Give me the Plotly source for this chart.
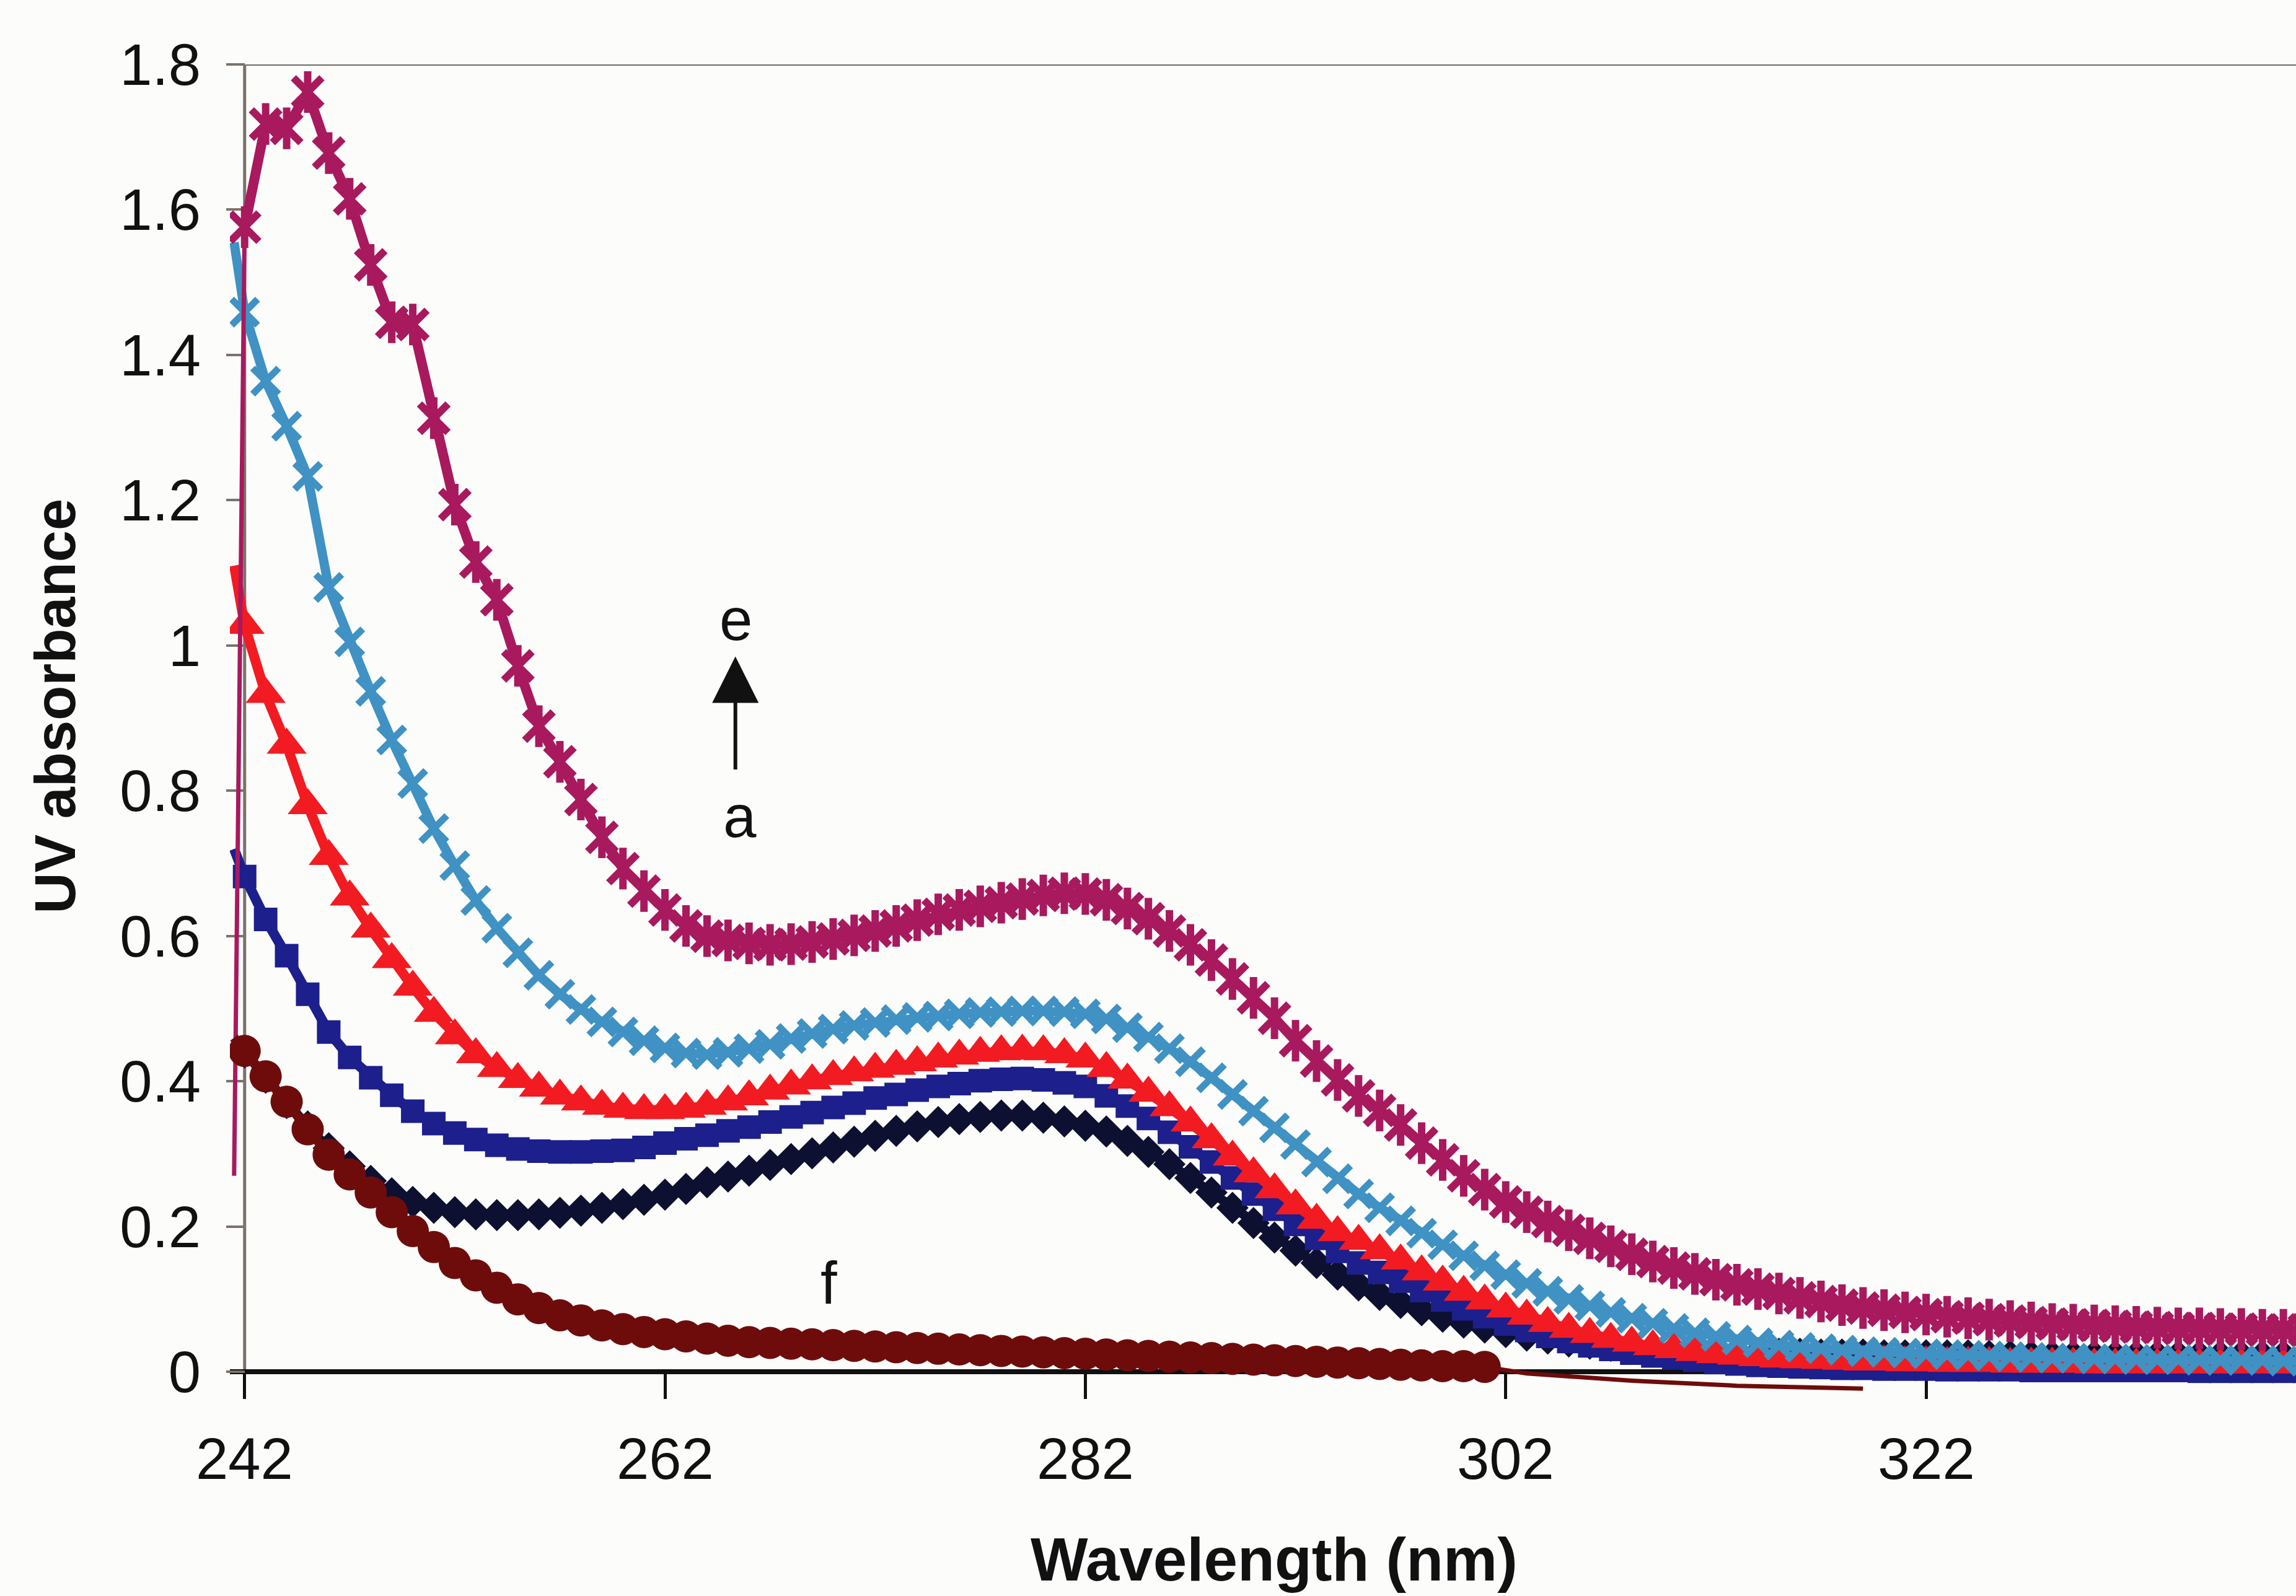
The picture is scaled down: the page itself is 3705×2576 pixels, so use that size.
import plotly.graph_objects as go

# Wavelength grid (nm); the first sample sits half a step before the axis origin
wavelength = [241.5] + list(range(242, 341))
wavelength_f = [241.5] + list(range(242, 302))

# UV absorbance of each spectrum
absorb_a = [0.46,
            0.440, 0.405, 0.370, 0.338, 0.308, 0.283, 0.263, 0.246, 0.234, 0.226,
            0.220, 0.217, 0.216, 0.216, 0.217, 0.219, 0.222, 0.226, 0.231, 0.237,
            0.244, 0.252, 0.261, 0.269, 0.277, 0.285, 0.293, 0.301, 0.309, 0.317,
            0.325, 0.332, 0.338, 0.344, 0.348, 0.351, 0.353, 0.353, 0.350, 0.345,
            0.339, 0.331, 0.318, 0.303, 0.286, 0.267, 0.247, 0.226, 0.205, 0.185,
            0.167, 0.150, 0.134, 0.119, 0.106, 0.095, 0.085, 0.076, 0.068, 0.061,
            0.055, 0.050, 0.046, 0.042, 0.039, 0.036, 0.034, 0.032, 0.030, 0.029,
            0.028, 0.027, 0.026, 0.025, 0.025, 0.024, 0.024, 0.024, 0.023, 0.023,
            0.023, 0.023, 0.023, 0.022, 0.022, 0.022, 0.022, 0.022, 0.022, 0.022,
            0.022, 0.022, 0.022, 0.022, 0.022, 0.022, 0.022, 0.022, 0.022]

absorb_b = [0.72,
            0.682, 0.623, 0.573, 0.520, 0.468, 0.433, 0.405, 0.381, 0.359, 0.342,
            0.329, 0.320, 0.312, 0.307, 0.304, 0.303, 0.303, 0.304, 0.305, 0.309,
            0.315, 0.321, 0.326, 0.332, 0.337, 0.344, 0.351, 0.357, 0.364, 0.370,
            0.377, 0.382, 0.388, 0.393, 0.397, 0.401, 0.403, 0.404, 0.402, 0.398,
            0.393, 0.380, 0.366, 0.349, 0.330, 0.310, 0.289, 0.267, 0.245, 0.224,
            0.203, 0.184, 0.166, 0.150, 0.137, 0.125, 0.112, 0.099, 0.087, 0.076,
            0.066, 0.057, 0.049, 0.042, 0.036, 0.031, 0.026, 0.022, 0.019, 0.016,
            0.013, 0.011, 0.009, 0.008, 0.007, 0.006, 0.005, 0.005, 0.004, 0.004,
            0.004, 0.003, 0.003, 0.003, 0.003, 0.002, 0.002, 0.002, 0.002, 0.002,
            0.002, 0.002, 0.002, 0.001, 0.001, 0.001, 0.001, 0.001, 0.001]

absorb_c = [1.11,
            1.028, 0.933, 0.863, 0.780, 0.710, 0.654, 0.610, 0.568, 0.530, 0.494,
            0.463, 0.437, 0.418, 0.403, 0.391, 0.380, 0.372, 0.366, 0.362, 0.360,
            0.360, 0.362, 0.366, 0.372, 0.379, 0.387, 0.394, 0.401, 0.407, 0.412,
            0.417, 0.421, 0.426, 0.431, 0.435, 0.439, 0.441, 0.442, 0.441, 0.437,
            0.431, 0.418, 0.402, 0.384, 0.364, 0.343, 0.320, 0.296, 0.273, 0.251,
            0.229, 0.209, 0.192, 0.180, 0.167, 0.153, 0.138, 0.124, 0.110, 0.098,
            0.087, 0.077, 0.067, 0.059, 0.052, 0.045, 0.040, 0.035, 0.031, 0.027,
            0.024, 0.022, 0.020, 0.018, 0.017, 0.016, 0.015, 0.014, 0.014, 0.013,
            0.013, 0.012, 0.012, 0.012, 0.011, 0.011, 0.011, 0.011, 0.010, 0.010,
            0.010, 0.010, 0.010, 0.010, 0.010, 0.010, 0.010, 0.010, 0.010]

absorb_d = [1.555,
            1.459, 1.364, 1.302, 1.233, 1.080, 1.005, 0.937, 0.870, 0.810, 0.748,
            0.697, 0.649, 0.611, 0.577, 0.546, 0.520, 0.499, 0.482, 0.468, 0.456,
            0.446, 0.439, 0.437, 0.440, 0.445, 0.451, 0.459, 0.466, 0.472, 0.477,
            0.481, 0.485, 0.488, 0.490, 0.493, 0.495, 0.496, 0.497, 0.497, 0.496,
            0.493, 0.486, 0.474, 0.461, 0.445, 0.427, 0.405, 0.382, 0.359, 0.336,
            0.313, 0.289, 0.266, 0.245, 0.226, 0.208, 0.191, 0.175, 0.160, 0.146,
            0.134, 0.122, 0.111, 0.100, 0.091, 0.082, 0.074, 0.067, 0.060, 0.054,
            0.049, 0.044, 0.040, 0.037, 0.034, 0.032, 0.030, 0.028, 0.027, 0.026,
            0.025, 0.024, 0.023, 0.022, 0.021, 0.020, 0.019, 0.019, 0.018, 0.018,
            0.017, 0.017, 0.017, 0.016, 0.016, 0.016, 0.016, 0.015, 0.015]

absorb_e = [0.27,
            1.576, 1.718, 1.712, 1.762, 1.678, 1.615, 1.524, 1.445, 1.442, 1.313,
            1.194, 1.115, 1.063, 0.972, 0.889, 0.840, 0.788, 0.736, 0.693, 0.662,
            0.636, 0.614, 0.600, 0.594, 0.590, 0.588, 0.589, 0.592, 0.596, 0.601,
            0.607, 0.614, 0.622, 0.630, 0.636, 0.641, 0.646, 0.651, 0.656, 0.659,
            0.658, 0.650, 0.638, 0.624, 0.607, 0.588, 0.567, 0.541, 0.515, 0.487,
            0.456, 0.428, 0.402, 0.380, 0.360, 0.340, 0.315, 0.292, 0.270, 0.251,
            0.234, 0.220, 0.207, 0.195, 0.184, 0.173, 0.162, 0.152, 0.143, 0.135,
            0.127, 0.120, 0.114, 0.108, 0.102, 0.097, 0.092, 0.088, 0.085, 0.082,
            0.079, 0.076, 0.074, 0.072, 0.070, 0.068, 0.066, 0.065, 0.064, 0.063,
            0.062, 0.061, 0.060, 0.060, 0.059, 0.059, 0.058, 0.058, 0.058]

absorb_f = [0.46,
            0.442, 0.407, 0.372, 0.334, 0.299, 0.272, 0.247, 0.220, 0.194, 0.172,
            0.150, 0.133, 0.116, 0.100, 0.088, 0.078, 0.071, 0.064, 0.059, 0.055,
            0.052, 0.049, 0.046, 0.043, 0.041, 0.040, 0.039, 0.038, 0.037, 0.036,
            0.035, 0.034, 0.033, 0.032, 0.031, 0.030, 0.029, 0.028, 0.027, 0.026,
            0.025, 0.024, 0.023, 0.022, 0.021, 0.020, 0.019, 0.018, 0.017, 0.016,
            0.015, 0.014, 0.013, 0.012, 0.011, 0.010, 0.009, 0.008, 0.008, 0.007]

# trailing segment of spectrum f past its last marker
tail_f_x = [301, 303, 308, 313, 319]
tail_f_y = [0.007, -0.002, -0.012, -0.019, -0.023]

x_ticks = [242, 262, 282, 302, 322]
x_tick_text = ["242", "262", "282", "302", "322"]
y_ticks = [0, 0.2, 0.4, 0.6, 0.8, 1.0, 1.2, 1.4, 1.6, 1.8]
y_tick_text = ["0", "0.2", "0.4", "0.6", "0.8", "1", "1.2", "1.4", "1.6", "1.8"]

COL_A = "#0d1030"
COL_B = "#1c1f8c"
COL_C = "#f21b22"
COL_D = "#3f92c3"
COL_E = "#a8195e"
COL_F = "#6e0c0c"
AXIS_GREY = "#7a736b"
INK = "#111111"
FONT = "Liberation Sans, Arial, sans-serif"

W, H = 3705, 2576
X_RANGE = [241.3, 339.6]
Y_RANGE = [-0.05, 1.8]

fig = go.Figure()


def add_spectrum(x, y, color, symbol, size, line_w, edge_w=0, extra_symbol=None,
                 extra_size=None, lead_w=None):
    # lead-in segment before the axis origin
    fig.add_trace(go.Scatter(
        x=x[:2], y=y[:2], mode="lines",
        line=dict(color=color, width=lead_w or line_w),
        showlegend=False, hoverinfo="skip",
    ))
    # connecting line through the remaining samples
    fig.add_trace(go.Scatter(
        x=x[1:], y=y[1:], mode="lines", line=dict(color=color, width=line_w),
        showlegend=False, hoverinfo="skip",
    ))
    # markers from the axis origin onwards
    fig.add_trace(go.Scatter(
        x=x[1:], y=y[1:], mode="markers",
        marker=dict(symbol=symbol, size=size, color=color, opacity=1,
                    line=dict(color=color, width=edge_w)),
        showlegend=False, hoverinfo="skip",
    ))
    if extra_symbol:
        fig.add_trace(go.Scatter(
            x=x[1:], y=y[1:], mode="markers",
            marker=dict(symbol=extra_symbol, size=extra_size, color=color,
                        opacity=1, line=dict(color=color, width=edge_w)),
            showlegend=False, hoverinfo="skip",
        ))


add_spectrum(wavelength, absorb_a, COL_A, "diamond", 40, 15)
add_spectrum(wavelength, absorb_b, COL_B, "square", 38, 16)
add_spectrum(wavelength, absorb_c, COL_C, "triangle-up", 56, 16)
add_spectrum(wavelength, absorb_d, COL_D, "x-thin-open", 42, 15, edge_w=11)
add_spectrum(wavelength, absorb_e, COL_E, "x-thin-open", 46, 16, edge_w=12,
             extra_symbol="line-ns-open", extra_size=48, lead_w=7)
fig.add_trace(go.Scatter(
    x=tail_f_x, y=tail_f_y, mode="lines",
    line=dict(color=COL_F, width=7),
    showlegend=False, hoverinfo="skip",
))
add_spectrum(wavelength_f, absorb_f, COL_F, "circle", 52, 15)

# x tick labels set just below the tick marks
tick_label_notes = [
    dict(x=v, y=-0.0375, xref="x", yref="paper", text=t, showarrow=False,
         xanchor="center", yanchor="middle",
         font=dict(size=94, family=FONT, color=INK))
    for v, t in zip(x_ticks, x_tick_text)
]

fig.update_layout(
    width=W, height=H,
    margin=dict(l=371, r=0, t=104, b=303, pad=0),
    paper_bgcolor="#fcfcfa", plot_bgcolor="#fcfcfa",
    font=dict(family=FONT, color=INK),
    xaxis=dict(
        range=X_RANGE, anchor="free",
        position=(0 - Y_RANGE[0]) / (Y_RANGE[1] - Y_RANGE[0]),
        showline=True, linecolor=INK, linewidth=8,
        ticks="outside", ticklen=40, tickwidth=5, tickcolor=INK,
        tickvals=x_ticks, showticklabels=False,
        showgrid=False, zeroline=False, layer="below traces",
    ),
    yaxis=dict(
        range=Y_RANGE, anchor="free",
        position=(242 - X_RANGE[0]) / (X_RANGE[1] - X_RANGE[0]),
        showline=False,
        ticks="outside", ticklen=30, tickwidth=4, tickcolor=AXIS_GREY,
        tickvals=y_ticks, ticktext=y_tick_text,
        tickfont=dict(size=94, family=FONT, color=INK),
        ticklabelstandoff=22,
        showgrid=False, zeroline=False, layer="below traces",
    ),
    shapes=[
        dict(type="line", xref="x", yref="y", x0=242, x1=242, y0=0, y1=1.8,
             line=dict(color=AXIS_GREY, width=5), layer="below"),
        dict(type="line", xref="paper", yref="y", x0=0, x1=1, y0=1.8, y1=1.8,
             line=dict(color="#6f6a64", width=4), layer="below"),
    ],
    annotations=tick_label_notes + [
        dict(x=265.38, y=1.036, xref="x", yref="y", text="e", showarrow=False,
             xanchor="center", yanchor="middle",
             font=dict(size=96, family=FONT, color=INK)),
        dict(x=265.58, y=0.765, xref="x", yref="y", text="a", showarrow=False,
             xanchor="center", yanchor="middle",
             font=dict(size=96, family=FONT, color=INK)),
        dict(x=269.8, y=0.123, xref="x", yref="y", text="f", showarrow=False,
             xanchor="center", yanchor="middle",
             font=dict(size=96, family=FONT, color=INK)),
        dict(x=265.35, y=0.985, ax=265.35, ay=0.828, xref="x", yref="y",
             axref="x", ayref="y", text="", showarrow=True,
             arrowhead=2, arrowsize=2.5, arrowwidth=6, arrowcolor=INK),
        dict(x=0.5054, y=-0.1125, xref="paper", yref="paper",
             text="<b>Wavelength (nm)</b>", showarrow=False,
             xanchor="center", yanchor="middle",
             font=dict(size=98, family=FONT, color=INK)),
        dict(x=-0.0844, y=0.5223, xref="paper", yref="paper",
             text="<b>UV absorbance</b>", showarrow=False, textangle=-90,
             xanchor="center", yanchor="middle",
             font=dict(size=92, family=FONT, color=INK)),
    ],
)

fig.write_html("out.html", config={"displayModeBar": False})
